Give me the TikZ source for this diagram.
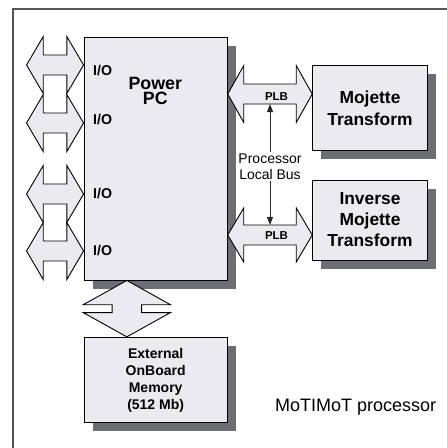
\documentclass[tikz,border=0pt]{standalone}
\usepackage{fontspec}
\setmainfont{Liberation Sans}
\usetikzlibrary{arrows.meta,calc}
\definecolor{boxfill}{RGB}{235,235,239}
\definecolor{shadowc}{RGB}{109,110,116}
\definecolor{framec}{RGB}{84,84,90}
% horizontal double arrow: left tip, right tip, head length, half head width, half shaft width (pt, canvas)
\newcommand\HArrow[5]{%
  \filldraw[dblarrow] let \p1=(#1), \p2=(#2) in
    (\p1) -- (\x1+#3pt,\y1+#4pt) -- (\x1+#3pt,\y1+#5pt) -- (\x2-#3pt,\y2+#5pt) -- (\x2-#3pt,\y2+#4pt)
    -- (\p2) -- (\x2-#3pt,\y2-#4pt) -- (\x2-#3pt,\y2-#5pt) -- (\x1+#3pt,\y1-#5pt) -- (\x1+#3pt,\y1-#4pt) -- cycle;}
% vertical double arrow: top tip, bottom tip, head length, half head width, half shaft width
\newcommand\VArrow[5]{%
  \filldraw[dblarrow] let \p1=(#1), \p2=(#2) in
    (\p1) -- (\x1-#4pt,\y1-#3pt) -- (\x1-#5pt,\y1-#3pt) -- (\x2-#5pt,\y2+#3pt) -- (\x2-#4pt,\y2+#3pt)
    -- (\p2) -- (\x2+#4pt,\y2+#3pt) -- (\x2+#5pt,\y2+#3pt) -- (\x1+#5pt,\y1-#3pt) -- (\x1+#4pt,\y1-#3pt) -- cycle;}
\begin{document}
\begin{tikzpicture}[x=1pt,y=-1pt,
  shadowbox/.style={fill=shadowc, inner sep=0pt},
  box/.style={draw=black, line width=0.9pt, fill=boxfill, inner sep=0pt, align=center},
  dblarrow/.style={draw=black, line width=0.9pt, fill=boxfill},
  iolabel/.style={font=\fontsize{14.2}{17}\selectfont\bfseries, anchor=base west, inner sep=0pt},
  plblabel/.style={font=\fontsize{11.5}{14}\selectfont\bfseries, inner sep=0pt},
  bus/.style={draw=black!85, line width=1pt, {Triangle[length=8pt,width=6pt]}-{Triangle[length=8pt,width=6pt]}}
]
\useasboundingbox (0,0) rectangle (447,448);
\draw[framec, line width=1.5pt] (13,449) -- (13,9) -- (448,9);

% shadows
\node[shadowbox, minimum width=143.3pt, minimum height=243pt] (ppcs) at (164.15,167) {};
\node[shadowbox, minimum width=114.6pt, minimum height=85pt] (mojs) at (378.5,116.7) {};
\node[shadowbox, minimum width=114.6pt, minimum height=80pt] (invs) at (378.5,228.5) {};
\node[shadowbox, minimum width=143.3pt, minimum height=85.4pt] (mems) at (164.15,388.5) {};

% boxes
\node[box, minimum width=143.3pt, minimum height=243pt] (ppc) at (155.65,158.5) {};
\node[box, minimum width=114.6pt, minimum height=85pt, font=\fontsize{17.4}{22}\selectfont\bfseries] (moj) at (370,108.2) {Mojette\\Transform};
\node[box, minimum width=114.6pt, minimum height=80pt, font=\fontsize{17.4}{21}\selectfont\bfseries] (inv) at (370,220) {Inverse\\Mojette\\Transform};
\node[box, minimum width=143.3pt, minimum height=85.4pt, font=\fontsize{14}{17}\selectfont\bfseries] (mem) at (155.65,380) {External\\OnBoard\\Memory\\(512 Mb)};

\node[font=\fontsize{17.8}{14.5}\selectfont\bfseries, align=center, anchor=north, inner sep=0pt] (ppct) at (155.3,77.3) {Power\\PC};

% I/O arrows
\foreach \c [count=\i] in {65,123,194,251}{
  \coordinate (ioR\i) at (ppc.west |- 0,\c);
  \coordinate (ioL\i) at ($(ioR\i)+(-57,0)$);
  \HArrow{ioL\i}{ioR\i}{16.7}{28.5}{10}
}
\node[iolabel] (iot1) at (93,75) {I/O};
\node[iolabel] (iot2) at (93,124) {I/O};
\node[iolabel] (iot3) at (93,198.3) {I/O};
\node[iolabel] (iot4) at (93,255.3) {I/O};

% PLB arrows
\coordinate (plb1L) at (ppc.east |- 0,94);
\coordinate (plb1R) at (moj.west |- 0,94);
\coordinate (plb2L) at (ppc.east |- 0,235);
\coordinate (plb2R) at (inv.west |- 0,235);
\HArrow{plb1L}{plb1R}{16}{28.5}{10}
\HArrow{plb2L}{plb2R}{16}{27}{10}
\node[plblabel] (plbt1) at (276.5,96.3) {PLB};
\node[plblabel] (plbt2) at (276.5,235.3) {PLB};

% processor local bus
\coordinate (bus1) at (270,104);
\coordinate (bus2) at (270,225);
\draw[bus] (bus1) -- (bus2);
\node[fill=white, inner sep=1pt, align=center, font=\fontsize{14}{16.7}\selectfont] (plbname) at ($(bus1)!0.5!(bus2)+(0,2.2)$) {Processor\\Local Bus};

% memory arrow
\coordinate (memT) at ($(ppc.south west)+(43.3,0)$);
\coordinate (memB) at (memT |- mem.north);
\VArrow{memT}{memB}{24.3}{43.7}{14.7}

\node[font=\fontsize{18}{21}\selectfont, anchor=base west, inner sep=0pt] (title) at (275,411.7) {MoTIMoT processor};
\end{tikzpicture}
\end{document}
